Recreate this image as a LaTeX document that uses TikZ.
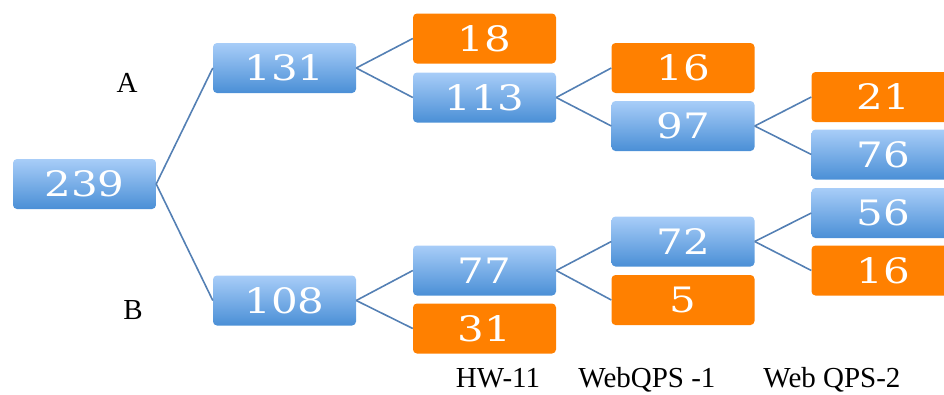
\documentclass[tikz,border=0pt]{standalone}
\usepackage{fontspec}
\setmainfont{Liberation Serif}
\newfontfamily\digitfont{DejaVu Serif}
\definecolor{boxtop}{RGB}{168,205,248}
\definecolor{boxbot}{RGB}{74,143,214}
\definecolor{orangebox}{RGB}{255,128,0}
\definecolor{linkcol}{RGB}{84,128,180}
\newcommand{\num}[1]{\scalebox{1.2}[1]{\digitfont\fontsize{35}{35}\selectfont #1}}
\tikzset{
  bluebox/.style={rectangle, rounded corners=4pt, minimum width=143pt, minimum height=50pt,
    inner sep=0pt, top color=boxtop, bottom color=boxbot, draw=none, text=white},
  orangebox/.style={rectangle, rounded corners=4pt, minimum width=143pt, minimum height=50pt,
    inner sep=0pt, fill=orangebox, draw=none, text=white},
  link/.style={draw=linkcol, line width=1.6pt},
  lbl/.style={font=\fontsize{29}{29}\selectfont, text=black, inner sep=0pt}
}
\begin{document}
\begin{tikzpicture}[x=1pt,y=-1pt]
\useasboundingbox (0,0) rectangle (944,394);
\begin{scope}
\clip (0,0) rectangle (944,394);
% column 0
\node[bluebox] (n239) at (84.5,184) {\num{239}};
% column 1
\node[bluebox] (n131) at (284.5,68) {\num{131}};
\node[bluebox] (n108) at (284.5,300.5) {\num{108}};
% column 2
\node[orangebox] (n18) at (484.5,38.5) {\num{18}};
\node[bluebox] (n113) at (484.5,97.5) {\num{113}};
\node[bluebox] (n77) at (484.5,270.5) {\num{77}};
\node[orangebox] (n31) at (484.5,328.5) {\num{31}};
% column 3
\node[orangebox] (n16a) at (683,68) {\num{16}};
\node[bluebox] (n97) at (683,126) {\num{97}};
\node[bluebox] (n72) at (683,241.5) {\num{72}};
\node[orangebox] (n5) at (683,300) {\num{5}};
% column 4
\node[orangebox] (n21) at (883,97) {\num{21}};
\node[bluebox] (n76) at (883,154.5) {\num{76}};
\node[bluebox] (n56) at (883,213) {\num{56}};
\node[orangebox] (n16b) at (883,270.5) {\num{16}};
\end{scope}
% connectors
\draw[link] (n239.east) -- (n131.west);
\draw[link] (n239.east) -- (n108.west);
\draw[link] (n131.east) -- (n18.west);
\draw[link] (n131.east) -- (n113.west);
\draw[link] (n108.east) -- (n77.west);
\draw[link] (n108.east) -- (n31.west);
\draw[link] (n113.east) -- (n16a.west);
\draw[link] (n113.east) -- (n97.west);
\draw[link] (n77.east) -- (n72.west);
\draw[link] (n77.east) -- (n5.west);
\draw[link] (n97.east) -- (n21.west);
\draw[link] (n97.east) -- (n76.west);
\draw[link] (n72.east) -- (n56.west);
\draw[link] (n72.east) -- (n16b.west);
% labels
\node[lbl] (la) at (127,83) {A};
\node[lbl] (lb) at (133,310) {B};
\node[lbl, anchor=base] (l1) at (498,387) {HW-11};
\node[lbl, anchor=base] (l2) at (647,387) {WebQPS -1};
\node[lbl, anchor=base] (l3) at (832,387) {Web QPS-2};
\end{tikzpicture}
\end{document}
